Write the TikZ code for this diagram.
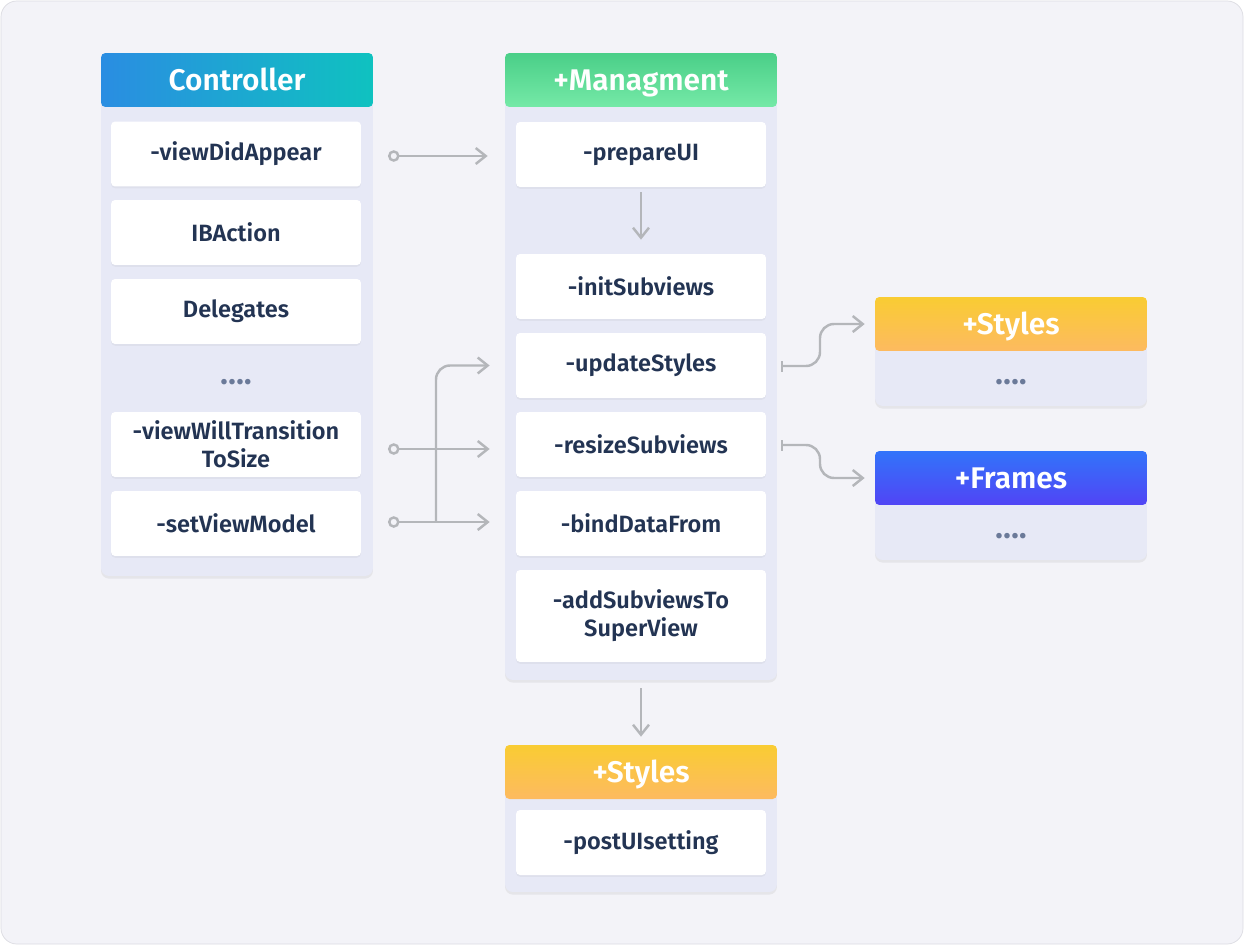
\documentclass[tikz,border=0pt]{standalone}
\usepackage{fontspec}
\setmainfont{Fira Sans}[BoldFont={Fira Sans SemiBold}]
\usetikzlibrary{arrows.meta,shadows}
\definecolor{pagebg}{HTML}{F3F3F8}
\definecolor{pageline}{HTML}{DCDCE2}
\definecolor{panelbg}{HTML}{E7E9F6}
\definecolor{itemtext}{HTML}{233453}
\definecolor{dotgray}{HTML}{6B7A99}
\definecolor{linkgray}{HTML}{B4B6BA}
\definecolor{ctlleft}{HTML}{2A8DE2}
\definecolor{ctlright}{HTML}{0FC2C0}
\definecolor{mgmttop}{HTML}{4ACF88}
\definecolor{mgmtbot}{HTML}{75E9A7}
\definecolor{stytop}{HTML}{F9CC33}
\definecolor{stybot}{HTML}{FDBA60}
\definecolor{frmtop}{HTML}{3274FA}
\definecolor{frmbot}{HTML}{5144F5}
\begin{document}
\begin{tikzpicture}[x=0.02cm, y=-0.02cm,
  panel/.style={rectangle, rounded corners=4.5pt, fill=panelbg, minimum width=5.44cm, inner sep=0pt,
    drop shadow={opacity=0.12, shadow xshift=0pt, shadow yshift=-1.5pt}},
  head/.style={rectangle, rounded corners=2.5pt, minimum width=5.44cm, minimum height=1.08cm, inner sep=0pt,
    text height=11.7pt, text depth=0pt, text=white, font=\fontsize{17}{19}\selectfont\bfseries},
  item node/.style={rectangle, rounded corners=2.3pt, fill=white, minimum width=5cm, minimum height=1.3cm,
    inner sep=0pt, align=center, text=itemtext, font=\fontsize{13.4}{16}\selectfont\bfseries,
    drop shadow={opacity=0.08, shadow xshift=0pt, shadow yshift=-1pt}},
  dots node/.style={text=dotgray, font=\fontsize{14}{15}\selectfont},
  link/.style={draw=linkgray, line width=1.4pt, -{Straight Barb[length=2mm,width=3.2mm]}},
  start link/.style={link, {Circle[open,length=2.3mm,width=2.3mm,fill=pagebg]}-{Straight Barb[length=2mm,width=3.2mm]}},
  tie link/.style={link, {Bar[width=2.2mm]}-{Straight Barb[length=2mm,width=3.2mm]}, rounded corners=8pt}]
\useasboundingbox (0,0) rectangle (1245,950);
\fill[white] (0,0) rectangle (1245,950);
\draw[pageline, fill=pagebg, rounded corners=9pt] (1,1) rectangle (1243,944);

\node [panel, minimum height=10.46cm](ctl) at (237,314.5) {};
\node [panel, minimum height=12.54cm](mgmt) at (641,366.5) {};
\node [panel, minimum height=2.18cm](sty) at (1011,351.5) {};
\node [panel, minimum height=2.18cm](frm) at (1011,505.5) {};
\node [panel, minimum height=2.94cm](post) at (641,818.5) {};

\node [head, left color=ctlleft, right color=ctlright](ctlh) at (237,80) {Controller};
\node [head, top color=mgmttop, bottom color=mgmtbot](mgmth) at (641,80) {+Managment};
\node [head, top color=stytop, bottom color=stybot](styh) at (1011,324) {+Styles};
\node [head, top color=frmtop, bottom color=frmbot](frmh) at (1011,478) {+Frames};
\node [head, top color=stytop, bottom color=stybot](posth) at (641,772) {+Styles};

\node [item node](vda) at (236,154) {-viewDidAppear};
\node [item node](iba) at (236,232.5) {IBAction};
\node [item node](del) at (236,311.5) {Delegates};
\node [dots node](ctldots) at (236,385) {••••};
\node [item node](vwt) at (236,444.5) {-viewWillTransition\\ToSize};
\node [item node](svm) at (236,523.5) {-setViewModel};

\node [item node](pui) at (641,154.5) {-prepareUI};
\node [item node](isv) at (641,286.5) {-initSubviews};
\node [item node](ups) at (641,365.5) {-updateStyles};
\node [item node](rsv) at (641,444.5) {-resizeSubviews};
\node [item node](bdf) at (641,523.5) {-bindDataFrom};
\node [item node, minimum height=1.84cm](asv) at (641,616) {-addSubviewsTo\\SuperView};

\node [dots node](stydots) at (1011,385) {••••};
\node [dots node](frmdots) at (1011,539) {••••};
\node [item node](pus) at (641,842.5) {-postUIsetting};

\coordinate (c1) at (388,156);
\coordinate (c2) at (388,449);
\coordinate (c3) at (388,522);
\coordinate (fork) at (436,522);
\coordinate (b1) at (781,366);
\coordinate (b2) at (781,445);

\draw [start link, shorten >=0.56cm] (c1) -- (c1 -| pui.west);
\draw [start link, shorten >=0.52cm] (c2) -- (c2 -| rsv.west);
\draw [start link, shorten >=0.52cm] (c3) -- (c3 -| bdf.west);
\draw [link, rounded corners=8pt, shorten >=0.52cm] (fork) |- (ups.west);
\draw [tie link, shorten >=0.2cm] (b1) -- ++(39,0) |- (styh.west);
\draw [tie link, shorten >=0.2cm] (b2) -- ++(39,0) |- (frmh.west);
\path [link, shorten <=0.1cm, shorten >=0.28cm] (pui) edge (isv);
\path [link, shorten <=0.16cm, shorten >=0.16cm] (mgmt) edge (posth);
\end{tikzpicture}
\end{document}
